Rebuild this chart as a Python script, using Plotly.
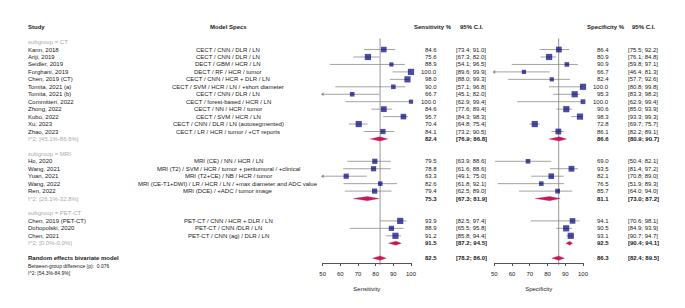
import plotly.graph_objects as go

# ---------------- data ----------------
groups = ["CT", "MRI", "PET-CT"]
group_i2 = ["I^2: [45.1%-86.6%]", "I^2: [26.1%-32.8%]", "I^2: [0.0%-0.0%]"]

study_group = ["CT"] * 12 + ["MRI"] * 5 + ["PET-CT"] * 3
studies = ["Kann, 2018", "Ariji, 2019", "Seidler, 2019", "Forghani, 2019", "Chen, 2019 (CT)",
           "Tomita, 2021 (a)", "Tomita, 2021 (b)", "Committeri, 2022", "Zhong, 2022", "Kubo, 2022",
           "Xu, 2023", "Zhao, 2023",
           "Ho, 2020", "Wang, 2021", "Yuan, 2021", "Wang, 2022", "Ren, 2022",
           "Chen, 2019 (PET-CT)", "Dohopolski, 2020", "Chen, 2021"]
specs = ["CECT / CNN / DLR / LN", "CECT / CNN / DLR / LN", "DECT / GBM / HCR / LN", "DECT / RF / HCR / tumor",
         "CECT / CNN / HCR + DLR / LN", "CECT / SVM / HCR / LN / +short diameter", "CECT / CNN / DLR / LN",
         "CECT / forest-based / HCR / LN", "CECT / NN / HCR / tumor", "CECT / SVM / HCR / LN",
         "CECT / CNN / DLR / LN (autosegmented)", "CECT / LR / HCR / tumor / +CT reports",
         "MRI (CE) / NN / HCR / LN", "MRI (T2) / SVM / HCR / tumor + peritumoral / +clinical",
         "MRI (T2+CE) / NB / HCR / tumor", "MRI (CE-T1+DWI) / LR / HCR / LN / +max diameter and ADC value",
         "MRI (DCE) / +ADC / tumor image",
         "PET-CT / CNN / HCR + DLR / LN", "PET-CT / CNN /DLR / LN", "PET-CT / CNN (ag) / DLR / LN"]

sens = [84.6, 75.6, 88.9, 100.0, 98.0, 90.0, 66.7, 100.0, 84.6, 95.7, 70.4, 84.1,
        79.5, 78.8, 63.3, 82.6, 79.4, 93.9, 88.9, 91.2]
sens_lo = [73.4, 67.3, 54.1, 89.6, 88.0, 57.1, 45.1, 62.9, 77.6, 84.3, 64.8, 73.2,
           63.9, 61.6, 49.1, 61.8, 62.5, 82.5, 65.5, 85.8]
sens_hi = [91.0, 82.0, 96.5, 99.9, 99.3, 96.8, 82.0, 99.4, 89.4, 98.3, 75.4, 90.5,
           88.6, 88.6, 75.0, 92.1, 89.0, 97.4, 95.8, 94.4]
spec = [86.4, 80.9, 90.9, 66.7, 82.4, 100.0, 95.3, 100.0, 90.6, 98.3, 72.8, 86.1,
        69.0, 93.5, 82.1, 76.5, 85.7, 94.1, 90.5, 93.1]
spec_lo = [75.5, 76.1, 59.8, 46.4, 57.7, 80.8, 83.3, 62.9, 85.0, 93.3, 69.7, 82.2,
           50.4, 81.4, 70.8, 51.9, 64.0, 70.6, 84.9, 90.7]
spec_hi = [92.2, 84.8, 97.1, 81.3, 92.6, 99.8, 98.2, 99.4, 93.9, 99.3, 75.7, 89.1,
           82.1, 97.2, 89.0, 89.3, 94.0, 98.1, 93.9, 94.7]
# study weights shown as square sizes (px)
sens_w = [5.6, 6.2, 4.2, 6.2, 6.2, 4.6, 4.6, 4.2, 5.8, 5.6, 6.2, 5.2,
          5.2, 5.2, 5.2, 4.6, 5.2, 6.2, 5.2, 6.2]
spec_w = [5.8, 6.2, 4.6, 4.2, 4.2, 6.2, 6.2, 4.8, 6.2, 6.2, 6.2, 5.8,
          4.6, 5.8, 5.6, 4.6, 4.8, 5.6, 6.2, 6.2]

pool_sens = [82.4, 75.3, 91.5]
pool_sens_lo = [76.9, 67.3, 87.2]
pool_sens_hi = [86.8, 81.9, 94.5]
pool_spec = [86.6, 81.1, 92.5]
pool_spec_lo = [80.9, 73.0, 90.4]
pool_spec_hi = [90.7, 87.2, 94.1]

overall_sens, overall_sens_lo, overall_sens_hi = 82.5, 78.2, 86.0
overall_spec, overall_spec_lo, overall_spec_hi = 86.3, 82.4, 89.5
between_p = "0.076"
overall_i2 = "I^2: [54.3%-84.9%]"

ticks = [50, 60, 70, 80, 90, 100]

# ---------------- layout helpers ----------------
W, H = 685, 308
Y0, DY = 27.2, 7.45
FONT = "Liberation Sans, Arial, sans-serif"
FS = 6.0
FS_SMALL = 5.0
TXT = "#1a1a1a"
GREY = "#aaaaaa"
NAVY = "#00007f"
DIAM = "#c8185a"
LINE = "#8a8a8a"


def px(x):
    return x / W


def ci(lo, hi):
    return "[%.1f; %.1f]" % (lo, hi)


fig = go.Figure()
ann = []


def text(x, row, s, anchor="left", bold=False, color=TXT, size=FS):
    ann.append(dict(x=px(x), y=row, xref="paper", yref="y", text=("<b>%s</b>" % s) if bold else s,
                    showarrow=False, xanchor=anchor, yanchor="middle",
                    font=dict(family=FONT, size=size, color=color)))


# header
text(26, 0, "Study", bold=True)
text(228, 0, "Model Specs", "center", bold=True)
text(433, 0, "Sensitivity %", "center", bold=True)
text(471.5, 0, "95% C.I.", "center", bold=True)
text(605.5, 0, "Specificity %", "center", bold=True)
text(643, 0, "95% C.I.", "center", bold=True)

# row assignment
study_rows = []
pool_rows = []
r = 2
for gi, g in enumerate(groups):
    text(26, r, "subgroup = " + g, color=GREY)
    idx = [i for i, sg in enumerate(study_group) if sg == g]
    for k, i in enumerate(idx):
        study_rows.append(r + 1 + k)
    pool_rows.append(r + 1 + len(idx))
    r = r + len(idx) + 3
overall_row = r

for i, row in enumerate(study_rows):
    text(26, row, studies[i])
    text(228, row, specs[i], "center")
    text(439, row, "%.1f" % sens[i], "right")
    text(471.5, row, ci(sens_lo[i], sens_hi[i]), "center")
    text(610.5, row, "%.1f" % spec[i], "right")
    text(643, row, ci(spec_lo[i], spec_hi[i]), "center")

for gi, row in enumerate(pool_rows):
    text(26, row, group_i2[gi], color=GREY)
    text(439, row, "%.1f" % pool_sens[gi], "right", bold=True)
    text(471.5, row, ci(pool_sens_lo[gi], pool_sens_hi[gi]), "center", bold=True)
    text(610.5, row, "%.1f" % pool_spec[gi], "right", bold=True)
    text(643, row, ci(pool_spec_lo[gi], pool_spec_hi[gi]), "center", bold=True)

text(26, overall_row, "Random effects bivariate model", bold=True)
text(439, overall_row, "%.1f" % overall_sens, "right", bold=True)
text(471.5, overall_row, ci(overall_sens_lo, overall_sens_hi), "center", bold=True)
text(610.5, overall_row, "%.1f" % overall_spec, "right", bold=True)
text(643, overall_row, ci(overall_spec_lo, overall_spec_hi), "center", bold=True)
text(26, overall_row + 1, "Between-group difference (p):  " + between_p, size=FS_SMALL)
text(26, overall_row + 2, overall_i2, size=FS_SMALL)


# forest panels
def panel(xa, est, lo, hi, w, pe, plo, phi, oe, olo, ohi):
    xs, ys = [], []
    ax, ay = [], []
    for i, row in enumerate(study_rows):
        xs += [lo[i], hi[i], None]
        ys += [row, row, None]
        if lo[i] < ticks[0]:
            ax.append(ticks[0])
            ay.append(row)
    fig.add_trace(go.Scatter(x=xs, y=ys, mode="lines", xaxis=xa, yaxis="y",
                             line=dict(color=LINE, width=0.8), hoverinfo="skip", showlegend=False))
    if ax:
        fig.add_trace(go.Scatter(x=ax, y=ay, mode="markers", xaxis=xa, yaxis="y", cliponaxis=False,
                                 marker=dict(symbol="triangle-left", size=3.5, color=LINE),
                                 hoverinfo="skip", showlegend=False))
    fig.add_trace(go.Scatter(x=est, y=study_rows, mode="markers", xaxis=xa, yaxis="y", cliponaxis=False,
                             marker=dict(symbol="square", size=w, color=NAVY, line=dict(width=0)),
                             showlegend=False))
    dh = 0.28
    for e, l, h, row in list(zip(pe, plo, phi, pool_rows)) + [(oe, olo, ohi, overall_row)]:
        fig.add_trace(go.Scatter(x=[l, e, h, e, l], y=[row, row - dh, row, row + dh, row],
                                 mode="lines", fill="toself", fillcolor=DIAM, xaxis=xa, yaxis="y",
                                 line=dict(color=DIAM, width=0.3), hoverinfo="skip", showlegend=False))
    fig.add_shape(type="line", xref=xa, yref="y", x0=oe, x1=oe, y0=1.5, y1=overall_row + 0.95,
                  line=dict(color=LINE, width=0.9), layer="below")


panel("x", sens, sens_lo, sens_hi, sens_w, pool_sens, pool_sens_lo, pool_sens_hi,
      overall_sens, overall_sens_lo, overall_sens_hi)
panel("x2", spec, spec_lo, spec_hi, spec_w, pool_spec, pool_spec_lo, pool_spec_hi,
      overall_spec, overall_spec_lo, overall_spec_hi)

axis_pos = 1 - 262.5 / H
axcommon = dict(range=[50, 100], tickvals=ticks, ticks="outside", ticklen=3, tickwidth=0.8,
                tickcolor="#555555", showline=True, linecolor="#555555", linewidth=0.8,
                showgrid=False, zeroline=False, anchor="free", position=axis_pos, automargin=False,
                ticklabelstandoff=2,
                tickfont=dict(family=FONT, size=FS, color=TXT), fixedrange=True)

fig.update_layout(
    width=W, height=H, autosize=False, margin=dict(l=0, r=0, t=0, b=0, pad=0, autoexpand=False),
    paper_bgcolor="white", plot_bgcolor="white",
    xaxis=dict(domain=[px(322.7), px(411.0)],
               title=dict(text="Sensitivity", font=dict(family=FONT, size=FS, color=TXT), standoff=11),
               **axcommon),
    xaxis2=dict(domain=[px(494.3), px(583.0)],
                title=dict(text="Specificity", font=dict(family=FONT, size=FS, color=TXT), standoff=11),
                **axcommon),
    yaxis=dict(range=[(H - Y0) / DY, -Y0 / DY], visible=False, domain=[0, 1], fixedrange=True,
               automargin=False),
    annotations=ann,
    showlegend=False,
)

fig.write_html("out.html", config={"displayModeBar": False},
               post_script="document.body.style.margin='0';")
